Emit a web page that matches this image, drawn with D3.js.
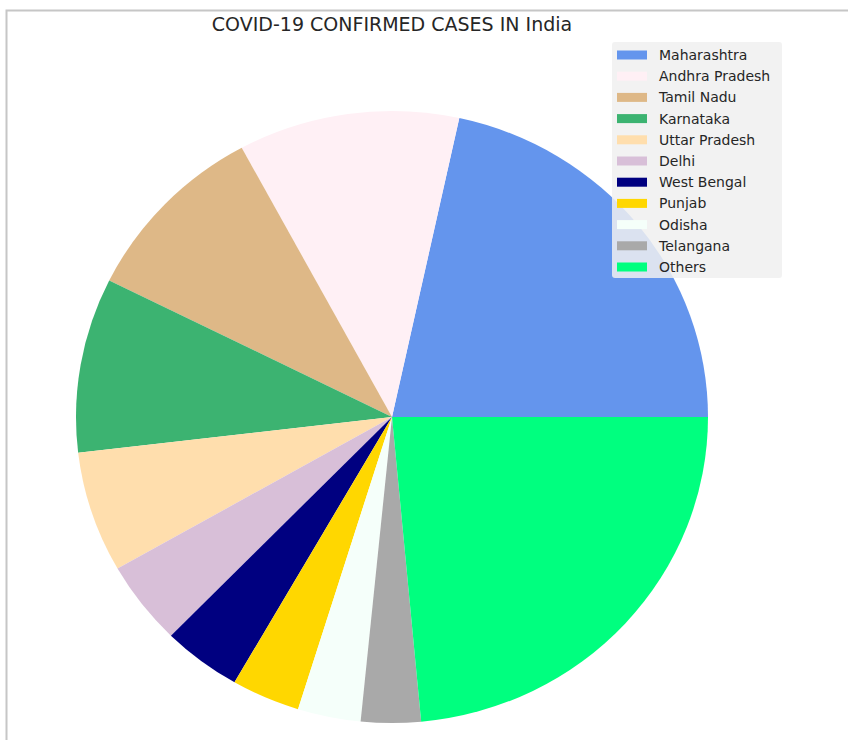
<!DOCTYPE html>
<html>
<head>
<meta charset="utf-8">
<script src="https://cdn.jsdelivr.net/npm/d3@7"></script>
<style>
  body { margin: 0; background: #fff; }
  svg { display: block; font-family: "DejaVu Sans", sans-serif; }
</style>
</head>
<body>
<svg id="chart"></svg>
<script>
const states = ["Maharashtra", "Andhra Pradesh", "Tamil Nadu", "Karnataka", "Uttar Pradesh",
    "Delhi", "West Bengal", "Punjab", "Odisha", "Telangana", "Others"];
const cases = [1165500, 610500, 526500, 498000, 345000, 238500, 217500, 189000, 174000, 165000, 1270500];
const colors = ["cornflowerblue", "lavenderblush", "burlywood", "mediumseagreen", "navajowhite",
    "thistle", "navy", "gold", "mintcream", "darkgray", "springgreen"];

const width = 848,
    height = 740;
const cx = 392,
    cy = 417,
    rx = 316,
    ry = 306;

const svg = d3.select("#chart").attr("width", width).attr("height", height);

// frame lines of the screenshot
svg.append("path")
    .attr("d", d3.line()([[width, 10.5], [6.5, 10.5], [6.5, height]]))
    .attr("fill", "none")
    .attr("stroke", "#c6c6c6")
    .attr("stroke-width", 2);

// matplotlib style: start at 3 o'clock, go counterclockwise
const pie = d3.pie()
    .sort(null)
    .startAngle(Math.PI / 2)
    .endAngle(Math.PI / 2 - 2 * Math.PI);

const arc = d3.arc().innerRadius(0).outerRadius(ry);

svg.append("g")
    .attr("transform", `translate(${cx},${cy}) scale(${rx / ry},1)`)
    .selectAll("path")
    .data(pie(cases))
    .enter()
    .append("path")
    .attr("d", arc)
    .attr("fill", (d, i) => colors[i]);

svg.append("text")
    .attr("x", 392)
    .attr("y", 31)
    .attr("text-anchor", "middle")
    .attr("font-size", 19)
    .attr("fill", "#262626")
    .text("COVID-19 CONFIRMED CASES IN India");

// legend
const legend = svg.append("g").attr("transform", "translate(612,42)");
legend.append("rect")
    .attr("width", 170)
    .attr("height", 236)
    .attr("rx", 3)
    .attr("fill", "#f0f0f0")
    .attr("fill-opacity", 0.85);

const rowY = d3.scalePoint().domain(states).range([13, 225]);

const rows = legend.selectAll("g.row")
    .data(states)
    .enter()
    .append("g")
    .attr("class", "row")
    .attr("transform", (d) => `translate(0,${rowY(d)})`);

rows.append("rect")
    .attr("x", 5)
    .attr("y", -4.5)
    .attr("width", 30)
    .attr("height", 9)
    .attr("fill", (d, i) => colors[i]);

rows.append("text")
    .attr("x", 47)
    .attr("y", 5)
    .attr("font-size", 14)
    .attr("fill", "#262626")
    .text((d) => d);
</script>
</body>
</html>
